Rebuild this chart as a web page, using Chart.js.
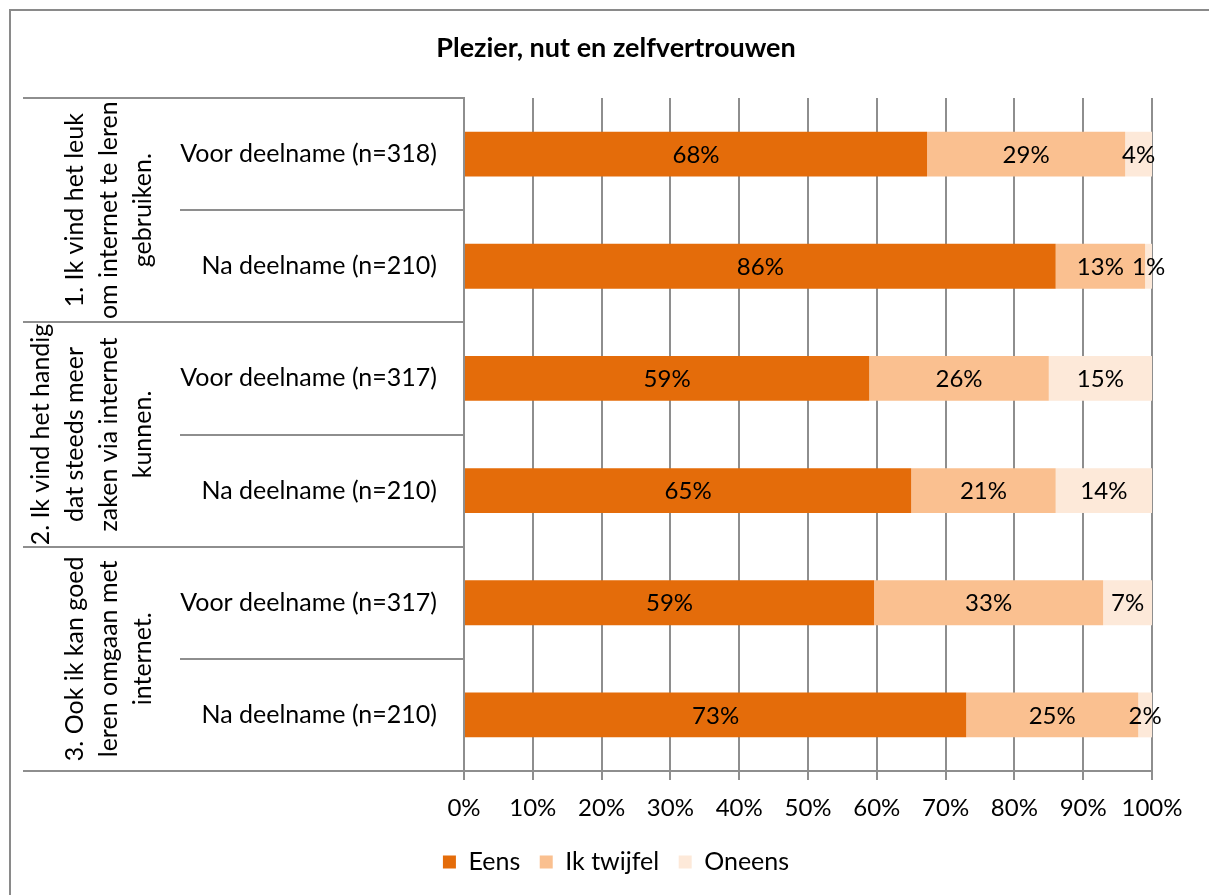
<!DOCTYPE html>
<html>
<head>
<meta charset="utf-8">
<script src="https://cdn.jsdelivr.net/npm/chart.js@4.4.1/dist/chart.umd.min.js"></script>
<style>
  html, body { margin: 0; padding: 0; background: #fff; overflow: hidden; }
  #wrap { position: relative; width: 1209px; height: 895px; }
  #frame { position: absolute; left: 9px; top: 9px; width: 1400px; height: 1000px;
           border-left: 2px solid #8a8a8a; border-top: 2px solid #8a8a8a; pointer-events: none; }
  canvas { position: absolute; left: 0; top: 0; }
</style>
</head>
<body>
<div id="wrap">
  <canvas id="c" width="1209" height="895"></canvas>
  <div id="frame"></div>
</div>
<script>
// ---- data ----
const title = 'Plezier, nut en zelfvertrouwen';
const categories = ['Voor deelname (n=318)', 'Na deelname (n=210)',
                    'Voor deelname (n=317)', 'Na deelname (n=210)',
                    'Voor deelname (n=317)', 'Na deelname (n=210)'];
const groupLabels = [
  ['1. Ik vind het leuk', 'om internet te leren', 'gebruiken.'],
  ['2. Ik vind het handig', 'dat steeds meer', 'zaken via internet', 'kunnen.'],
  ['3. Ook ik kan goed', 'leren omgaan met', 'internet.']
];
const seriesNames = ['Eens', 'Ik twijfel', 'Oneens'];
const eens    = [67.3, 86.0, 58.9, 65.0, 59.6, 73.0];
const twijfel = [28.8, 13.0, 26.1, 21.0, 33.3, 25.0];
const oneens  = [3.9, 1.0, 15.0, 14.0, 7.1, 2.0];
const eensLabels    = ['68%', '86%', '59%', '65%', '59%', '73%'];
const twijfelLabels = ['29%', '13%', '26%', '21%', '33%', '25%'];
const oneensLabels  = ['4%', '1%', '15%', '14%', '7%', '2%'];
const xTickLabels = ['0%', '10%', '20%', '30%', '40%', '50%', '60%', '70%', '80%', '90%', '100%'];

const FONT = 'Lato, "Open Sans", sans-serif';
const GRID = '#8e8e8e';
const colors = ['#E46C0A', '#FAC090', '#FDE9D9'];
const valueLabels = [eensLabels, twijfelLabels, oneensLabels];

const dataLabelPlugin = {
  id: 'dataLabels',
  afterDatasetsDraw(chart) {
    const ctx = chart.ctx;
    ctx.save();
    ctx.font = '24px ' + FONT;
    ctx.fillStyle = '#000';
    ctx.textAlign = 'center';
    ctx.textBaseline = 'middle';
    chart.data.datasets.forEach((ds, di) => {
      const meta = chart.getDatasetMeta(di);
      meta.data.forEach((el, i) => {
        const cx = (el.x + el.base) / 2;
        ctx.fillText(valueLabels[di][i], cx, el.y + 1);
      });
    });
    ctx.restore();
  }
};

const categoryFramePlugin = {
  id: 'categoryFrame',
  afterDraw(chart) {
    const ctx = chart.ctx;
    const y = chart.scales.y;
    const area = chart.chartArea;
    const n = categories.length;
    const bound = (k) => {
      if (k <= 0) return area.top;
      if (k >= n) return area.bottom;
      return (y.getPixelForValue(k - 1) + y.getPixelForValue(k)) / 2;
    };
    const outerLeft = 23, innerLeft = 180;
    ctx.save();
    ctx.strokeStyle = GRID;
    ctx.lineWidth = 2;
    for (let k = 0; k <= n; k++) {
      const yy = Math.round(bound(k));
      const x0 = (k % 2 === 0) ? outerLeft : innerLeft;
      ctx.beginPath();
      ctx.moveTo(x0, yy);
      ctx.lineTo(area.left, yy);
      ctx.stroke();
    }
    // rotated group labels
    ctx.font = '25px ' + FONT;
    ctx.fillStyle = '#000';
    ctx.textAlign = 'center';
    ctx.textBaseline = 'middle';
    const lastLineX = 143, lineGap = 34;
    groupLabels.forEach((lines, g) => {
      const yc = (bound(2 * g) + bound(2 * g + 2)) / 2;
      lines.forEach((line, li) => {
        const x = lastLineX - (lines.length - 1 - li) * lineGap;
        ctx.save();
        ctx.translate(x, yc);
        ctx.rotate(-Math.PI / 2);
        ctx.fillText(line, 0, 0);
        ctx.restore();
      });
    });
    ctx.restore();
  }
};

const chart = new Chart(document.getElementById('c'), {
  type: 'bar',
  data: {
    labels: categories,
    datasets: [
      { label: seriesNames[0], data: eens,    backgroundColor: colors[0] },
      { label: seriesNames[1], data: twijfel, backgroundColor: colors[1] },
      { label: seriesNames[2], data: oneens,  backgroundColor: colors[2] }
    ]
  },
  options: {
    indexAxis: 'y',
    responsive: false,
    animation: false,
    events: [],
    layout: { padding: { left: 80, right: 57, top: 0, bottom: 10.5 } },
    datasets: { bar: { categoryPercentage: 1.0, barPercentage: 0.4, borderWidth: 0 } },
    scales: {
      x: {
        stacked: true,
        min: 0, max: 100,
        ticks: {
          stepSize: 10,
          padding: 13.6,
          color: '#000',
          font: { family: FONT, size: 24 },
          callback: (v, i) => xTickLabels[i]
        },
        grid: { color: GRID, lineWidth: 2, drawTicks: true, tickLength: 9 },
        border: { display: true, color: GRID, width: 2 },
        afterFit: (s) => { s.height = 59; }
      },
      y: {
        stacked: true,
        ticks: {
          padding: 27,
          color: '#000',
          autoSkip: false,
          font: { family: FONT, size: 25 }
        },
        grid: { display: false, drawTicks: false },
        border: { display: true, color: GRID, width: 2 },
        afterFit: (s) => { s.width = 464 - 80; }
      }
    },
    plugins: {
      title: {
        display: true,
        text: title,
        color: '#000',
        font: { family: FONT, size: 27, weight: 'bold' },
        padding: { top: 31.8, bottom: 33.8 }
      },
      legend: {
        display: true,
        position: 'bottom',
        labels: {
          color: '#000',
          boxWidth: 13,
          boxHeight: 13,
          padding: 19.5,
          font: { family: FONT, size: 25 }
        }
      },
      tooltip: { enabled: false }
    }
  },
  plugins: [dataLabelPlugin, categoryFramePlugin]
});
</script>
</body>
</html>
